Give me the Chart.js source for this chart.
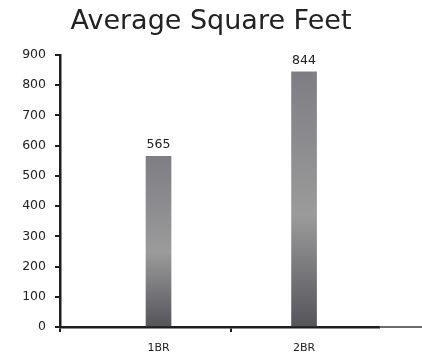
<!DOCTYPE html>
<html>
<head>
<meta charset="utf-8">
<script src="https://cdn.jsdelivr.net/npm/chart.js@4/dist/chart.umd.min.js"></script>
<style>
  html, body { margin: 0; padding: 0; background: #ffffff; }
  #wrap { width: 422px; height: 360px; }
</style>
</head>
<body>
<div id="wrap"><canvas id="c" width="422" height="360"></canvas></div>
<script>
const categories = ['1BR', '2BR'];
const avgSqft = [565, 844];
const yTicks = [0, 100, 200, 300, 400, 500, 600, 700, 800, 900];

const FONT = '"DejaVu Sans", sans-serif';
const AXIS = '#1e1e1e';
const TEXT = '#222222';
const X_MIN = -0.677, X_MAX = 1.515;

// value labels above each bar
const valueLabels = {
  id: 'valueLabels',
  afterDatasetsDraw(chart) {
    const ctx = chart.ctx;
    const meta = chart.getDatasetMeta(0);
    ctx.save();
    ctx.font = '12.5px ' + FONT;
    ctx.fillStyle = TEXT;
    ctx.textAlign = 'center';
    ctx.textBaseline = 'bottom';
    meta.data.forEach((bar, i) => {
      ctx.fillText(String(avgSqft[i]), bar.x, bar.y - 5);
    });
    ctx.restore();
  }
};

// thin continuation of the baseline past the plot edge
const baselineTail = {
  id: 'baselineTail',
  afterDraw(chart) {
    const { ctx, chartArea } = chart;
    const y = chart.scales.y.getPixelForValue(0);
    ctx.save();
    ctx.strokeStyle = '#3a3a3a';
    ctx.lineWidth = 1.5;
    ctx.beginPath();
    ctx.moveTo(chartArea.right, y);
    ctx.lineTo(chart.width, y);
    ctx.stroke();
    ctx.restore();
  }
};

// vertical shading running over each bar's own height
function barGradient(context) {
  const chart = context.chart;
  const yScale = chart.scales.y;
  if (!chart.chartArea || !yScale || !context.raw) return '#8a8a8e';
  const top = yScale.getPixelForValue(context.raw.y);
  const bottom = yScale.getPixelForValue(0);
  const g = chart.ctx.createLinearGradient(0, top, 0, bottom);
  g.addColorStop(0, '#7d7d84');
  g.addColorStop(0.56, '#9b9b9b');
  g.addColorStop(1, '#55545b');
  return g;
}

new Chart(document.getElementById('c'), {
  type: 'bar',
  data: {
    datasets: [{
      data: categories.map((c, i) => ({ x: i, y: avgSqft[i] })),
      backgroundColor: barGradient,
      barThickness: 25,
      borderWidth: 0
    }]
  },
  options: {
    responsive: false,
    animation: false,
    layout: { padding: 0 },
    plugins: {
      legend: { display: false },
      tooltip: { enabled: false },
      title: {
        display: true,
        text: 'Average Square Feet',
        color: TEXT,
        font: { family: FONT, size: 27, weight: 'normal' },
        padding: { top: 6, bottom: 16.6 }
      }
    },
    scales: {
      x: {
        type: 'linear',
        offset: false,
        min: X_MIN,
        max: X_MAX,
        afterBuildTicks(axis) {
          axis.ticks = [X_MIN, 0, 0.5, 1].map(v => ({ value: v }));
        },
        afterFit(axis) { axis.height = 33; },
        border: { display: true, color: AXIS, width: 2.5 },
        grid: {
          offset: false,
          drawOnChartArea: false,
          tickLength: 5,
          lineWidth: 2,
          color: (ctx) => (ctx.tick && Number.isInteger(ctx.tick.value)) ? 'rgba(0,0,0,0)' : AXIS
        },
        ticks: {
          autoSkip: false,
          maxRotation: 0,
          padding: 10,
          color: TEXT,
          font: { family: FONT, size: 11 },
          callback: (v) => Number.isInteger(v) ? categories[v] : ''
        }
      },
      y: {
        min: yTicks[0],
        max: yTicks[yTicks.length - 1],
        afterBuildTicks(axis) {
          axis.ticks = yTicks.map(v => ({ value: v }));
        },
        afterFit(axis) { axis.width = 60; },
        border: { display: true, color: AXIS, width: 2.5 },
        grid: { drawOnChartArea: false, tickLength: 5, lineWidth: 2, color: AXIS },
        ticks: {
          padding: 9,
          color: TEXT,
          font: { family: FONT, size: 12.5 }
        }
      },
      // empty right-hand gutter so the plot stops short of the canvas edge
      gutter: {
        type: 'linear',
        position: 'right',
        display: true,
        afterFit(axis) { axis.width = 43; },
        border: { display: false },
        grid: { display: false },
        ticks: { display: false }
      }
    }
  },
  plugins: [valueLabels, baselineTail]
});
</script>
</body>
</html>
